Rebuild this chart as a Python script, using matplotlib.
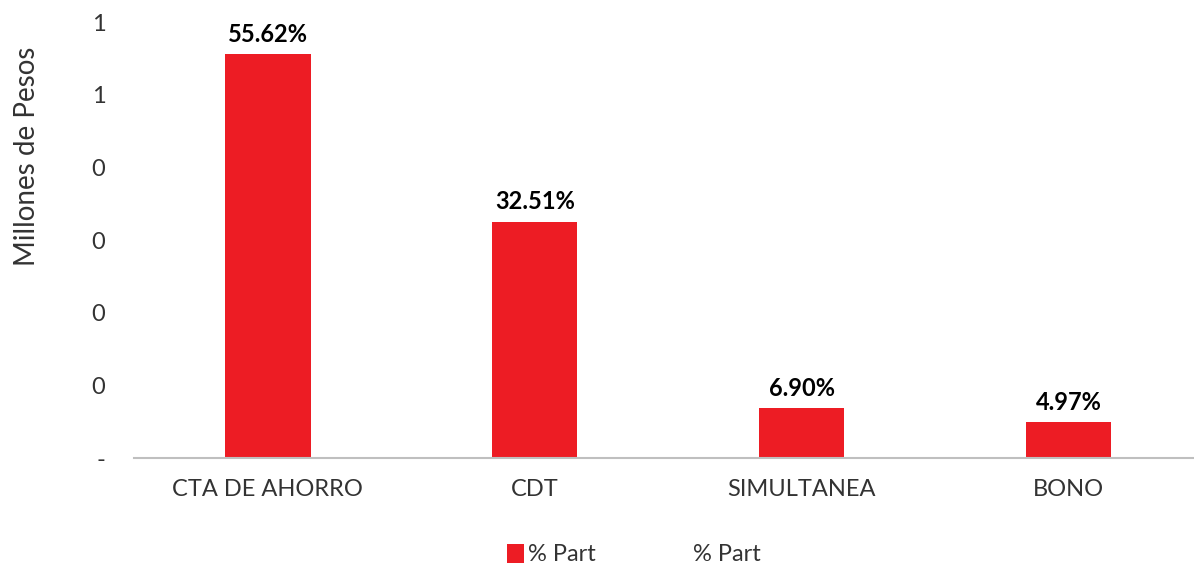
import matplotlib.pyplot as plt
from matplotlib.lines import Line2D
from matplotlib.patches import Patch

# data (millones de pesos and share of total)
categories = ["CTA DE AHORRO", "CDT", "SIMULTANEA", "BONO"]
values = [1.1124, 0.6502, 0.1380, 0.0994]
pct_part = [55.62, 32.51, 6.90, 4.97]
y_ticks = [0, 0.2, 0.4, 0.6, 0.8, 1.0, 1.2]

RED = "#ED1C24"
TXT = "#333333"
plt.rcParams["font.family"] = ["Lato", "DejaVu Sans"]

fig = plt.figure(figsize=(11.94, 5.67), dpi=100)
ax = fig.add_axes([0.1126, 0.1922, 0.8874, 0.7689])

x = list(range(len(categories)))
ax.bar(x, values, width=0.32, color=RED, zorder=2)

for xi, v, p in zip(x, values, pct_part):
    ax.annotate(f"{p:.2f}%", (xi, v), xytext=(0, 6), textcoords="offset points",
                ha="center", va="bottom", fontsize=17, fontweight="bold", color="black")

ax.set_xlim(-0.5, 3.47)
ax.set_ylim(0, 1.2)
ax.set_xticks(x)
ax.set_xticklabels(categories, fontsize=17, color=TXT)
ax.set_yticks(y_ticks)
# axis number format drops decimals (truncated), zero shown as "-"
ax.set_yticklabels(["-" if t == 0 else str(int(t)) for t in y_ticks],
                   fontsize=17, color=TXT)
ax.tick_params(axis="both", length=0)
ax.tick_params(axis="y", pad=21)
ax.tick_params(axis="x", pad=15)

for s in ["top", "right", "left"]:
    ax.spines[s].set_visible(False)
ax.spines["bottom"].set_color("#BFBFBF")
ax.spines["bottom"].set_linewidth(1.5)

fig.text(0.023, 0.725, "Millones de Pesos", rotation=90, ha="center", va="center",
         fontsize=20, color=TXT)

handles = [Patch(facecolor=RED, edgecolor="none"),
           Line2D([], [], linestyle="none", marker=None)]
fig.legend(handles, ["% Part", "% Part"], loc="center", bbox_to_anchor=(0.531, 0.022),
           ncol=2, frameon=False, handlelength=0.7, handleheight=0.9,
           handletextpad=0.2, columnspacing=3.2, labelcolor=TXT,
           prop={"size": 17})

fig.savefig("out.png", dpi=100)
